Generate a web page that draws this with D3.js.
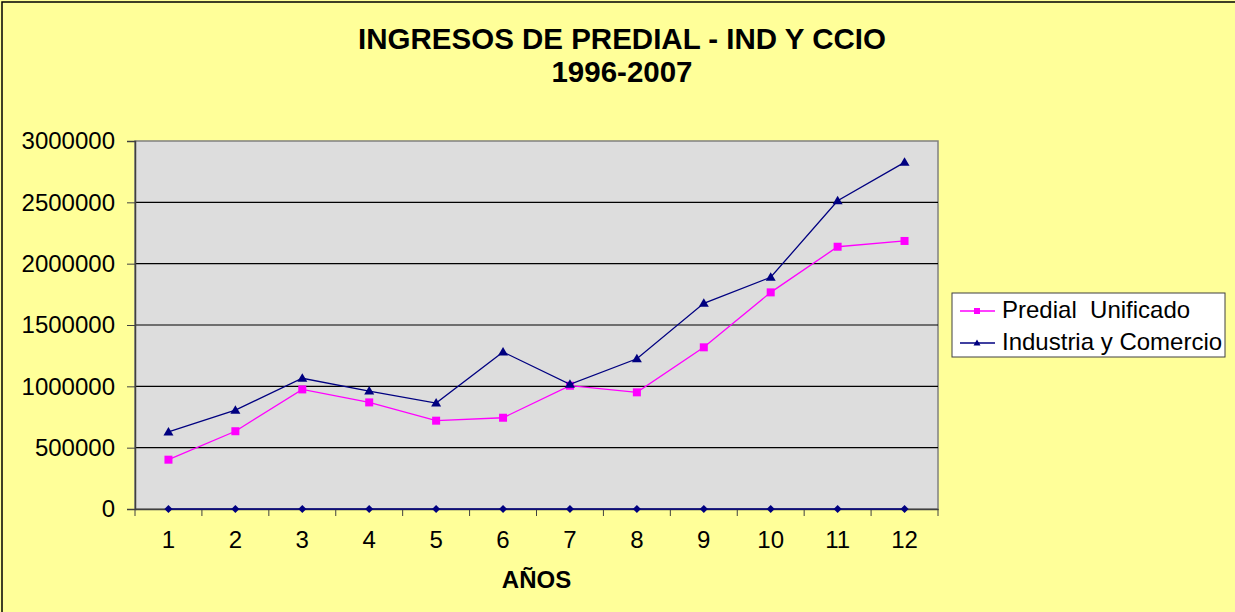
<!DOCTYPE html>
<html lang="es">

<head>
    <meta charset="UTF-8">
    <title>Ingresos de predial</title>
    <script src="https://d3js.org/d3.v7.min.js"></script>
    <style>
        body {
            margin: 0;
            background: #ffff99;
        }

        svg {
            display: block;
            font-family: "Liberation Sans", Arial, sans-serif;
        }
    </style>
</head>

<body>
    <svg width="1235" height="612"></svg>
    <script>
        // datos
        var anos = [1, 2, 3, 4, 5, 6, 7, 8, 9, 10, 11, 12];
        var predial = [402000, 634000, 975000, 869000, 720000, 744000, 1005000, 951000, 1318000, 1766000, 2138000, 2185000];
        var industria = [628000, 806000, 1066000, 961000, 864000, 1280000, 1016000, 1225000, 1677000, 1889000, 2513000, 2826000];
        var ceros = [0, 0, 0, 0, 0, 0, 0, 0, 0, 0, 0, 0];
        var yTicks = [0, 500000, 1000000, 1500000, 2000000, 2500000, 3000000];
        var titulo = ['INGRESOS DE PREDIAL - IND Y CCIO', '1996-2007'];

        var svg = d3.select('svg');
        // ojo: "top" es global del navegador, por eso plotTop
        var plotLeft = 135, plotRight = 938, plotTop = 141, plotBottom = 509;

        var x = d3.scaleBand().domain(anos).range([plotLeft, plotRight]);
        var y = d3.scaleLinear().domain([0, 3000000]).range([plotBottom, plotTop]);
        var cx = d => x(d) + x.bandwidth() / 2;

        // borde del area del grafico
        svg.append('rect')
            .attr('x', 2).attr('y', 2)
            .attr('width', 1250).attr('height', 630)
            .style('fill', '#ffff99')
            .style('stroke', 'black')
            .style('stroke-width', '1.5px');

        svg.selectAll('text.titulo')
            .data(titulo)
            .enter()
            .append('text')
            .attr('class', 'titulo')
            .attr('x', 622)
            .attr('y', (d, i) => 49 + i * 33)
            .attr('text-anchor', 'middle')
            .style('font-size', '29.5px')
            .style('font-weight', 'bold')
            .text(d => d);

        // area de trazado
        svg.append('rect')
            .attr('x', plotLeft).attr('y', plotTop)
            .attr('width', plotRight - plotLeft).attr('height', plotBottom - plotTop)
            .style('fill', '#dddddd')
            .style('stroke', '#808080')
            .style('stroke-width', '1.5px');

        svg.append('g')
            .selectAll('line')
            .data(yTicks.slice(1, -1))
            .enter()
            .append('line')
            .attr('x1', plotLeft).attr('x2', plotRight)
            .attr('y1', d => y(d)).attr('y2', d => y(d))
            .style('stroke', 'black')
            .style('stroke-width', '1.2px');

        var yAxis = svg.append('g')
            .attr('transform', 'translate(' + plotLeft + ',0)')
            .call(d3.axisLeft(y).tickValues(yTicks).tickSize(8).tickPadding(12).tickFormat(d3.format('d')));

        var xAxis = svg.append('g')
            .attr('transform', 'translate(0,' + plotBottom + ')')
            .call(d3.axisBottom(x).tickSize(0).tickPadding(22));

        xAxis.selectAll('.tickmark')
            .data(anos.concat([13]))
            .enter()
            .append('line')
            .attr('class', 'tickmark')
            .attr('x1', (d, i) => plotLeft + i * x.bandwidth())
            .attr('x2', (d, i) => plotLeft + i * x.bandwidth())
            .attr('y1', 0).attr('y2', 7)
            .style('stroke', '#404040');

        [yAxis, xAxis].forEach(a => {
            a.selectAll('text').style('font-size', '24px').style('fill', 'black')
                .style('font-family', '"Liberation Sans", Arial, sans-serif');
            a.select('.domain').style('stroke', '#404040').style('stroke-width', '1.5px');
            a.selectAll('.tick line').style('stroke', '#404040');
        });

        svg.append('text')
            .attr('x', (plotLeft + plotRight) / 2)
            .attr('y', 588)
            .attr('text-anchor', 'middle')
            .style('font-size', '24px')
            .style('font-weight', 'bold')
            .text('AÑOS');

        var line = d3.line().x((d, i) => cx(anos[i])).y(d => y(d));

        // serie en cero
        svg.append('path')
            .attr('d', line(ceros))
            .style('fill', 'none')
            .style('stroke', '#000080')
            .style('stroke-width', '1.5px');
        svg.selectAll('path.diamante')
            .data(ceros)
            .enter()
            .append('path')
            .attr('class', 'diamante')
            .attr('d', 'M0,-4L4,0L0,4L-4,0Z')
            .attr('transform', (d, i) => 'translate(' + cx(anos[i]) + ',' + y(d) + ')')
            .style('fill', '#000080');

        svg.append('path')
            .attr('d', line(predial))
            .style('fill', 'none')
            .style('stroke', '#ff00ff')
            .style('stroke-width', '1.3px');
        svg.selectAll('rect.cuadro')
            .data(predial)
            .enter()
            .append('rect')
            .attr('class', 'cuadro')
            .attr('x', (d, i) => cx(anos[i]) - 4)
            .attr('y', d => y(d) - 4)
            .attr('width', 8).attr('height', 8)
            .style('fill', '#ff00ff');

        svg.append('path')
            .attr('d', line(industria))
            .style('fill', 'none')
            .style('stroke', '#000080')
            .style('stroke-width', '1.3px');
        svg.selectAll('path.triangulo')
            .data(industria)
            .enter()
            .append('path')
            .attr('class', 'triangulo')
            .attr('d', 'M0,-5L5,3.5L-5,3.5Z')
            .attr('transform', (d, i) => 'translate(' + cx(anos[i]) + ',' + y(d) + ')')
            .style('fill', '#000080');

        // leyenda
        var leyenda = svg.append('g');
        leyenda.append('rect')
            .attr('x', 952).attr('y', 293)
            .attr('width', 273).attr('height', 64)
            .style('fill', 'white')
            .style('stroke', '#404040')
            .style('stroke-width', '1px');

        var items = [
            { nombre: 'Predial  Unificado', color: '#ff00ff', forma: 'cuadro' },
            { nombre: 'Industria y Comercio', color: '#000080', forma: 'triangulo' }
        ];
        var fila = leyenda.selectAll('g')
            .data(items)
            .enter()
            .append('g')
            .attr('transform', (d, i) => 'translate(0,' + (311 + i * 32) + ')');
        fila.append('line')
            .attr('x1', 960).attr('x2', 995)
            .style('stroke', d => d.color)
            .style('stroke-width', '1.3px');
        fila.append('path')
            .attr('d', d => d.forma == 'cuadro' ? 'M-3,-3H3V3H-3Z' : 'M0,-3.5L3.5,2.5L-3.5,2.5Z')
            .attr('transform', 'translate(977,0)')
            .style('fill', d => d.color);
        fila.append('text')
            .attr('x', 1002)
            .attr('y', 7)
            .attr('xml:space', 'preserve')
            .style('white-space', 'pre')
            .style('font-size', '24px')
            .text(d => d.nombre);
    </script>
</body>

</html>
